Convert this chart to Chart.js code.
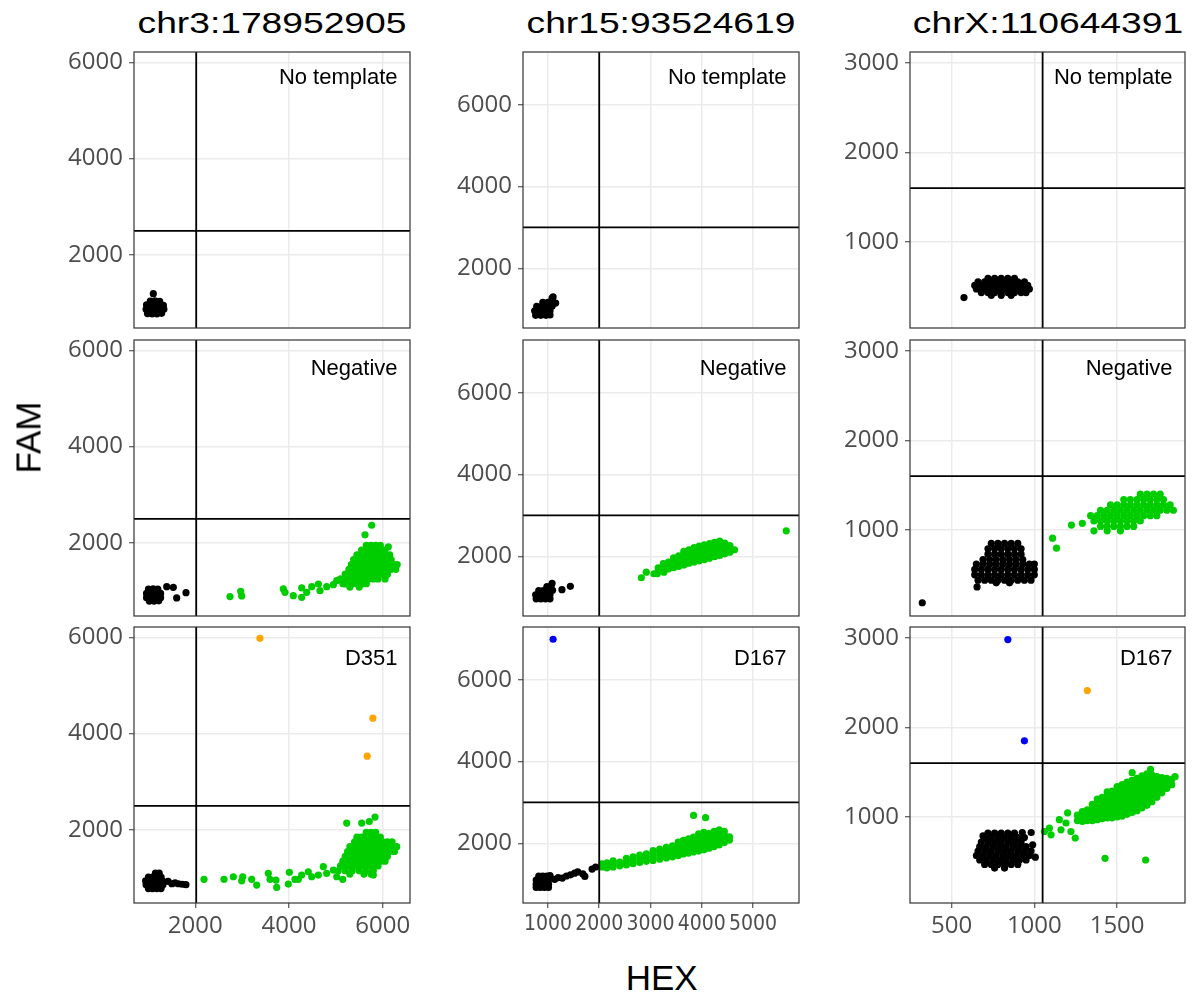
<!DOCTYPE html>
<html>
<head>
<meta charset="utf-8">
<script src="https://cdn.jsdelivr.net/npm/chart.js@4.4.1/dist/chart.umd.min.js"></script>
<style>
  body { margin: 0; background: #fff; width: 1192px; height: 1001px; position: relative; overflow: hidden; font-family: 'Liberation Sans', Arial, sans-serif; }
  canvas { position: absolute; }
  .title { position: absolute; width: 300px; font-size: 30px; line-height: 30px; text-align: center; white-space: nowrap; color: #000; transform: scaleX(1.24); }
  .axis-title { position: absolute; font-size: 35px; line-height: 35px; text-align: center; color: #000; white-space: nowrap; }
</style>
</head>
<body>
<div id="wrap"></div>
<script>
const panelTitles = ['chr3:178952905', 'chr15:93524619', 'chrX:110644391']
const panelLabels = [
  ['No template', 'No template', 'No template'],
  ['Negative', 'Negative', 'Negative'],
  ['D351', 'D167', 'D167']
]
const xRanges = [[692, 6583], [513, 5897], [249, 1910]]
const yRanges = [[480, 6215], [540, 7290], [40, 3120]]
const xTicks = [[2000, 4000, 6000], [1000, 2000, 3000, 4000, 5000], [500, 1000, 1500]]
const yTicks = [[2000, 4000, 6000], [2000, 4000, 6000], [1000, 2000, 3000]]
const xCut = [2020, 2000, 1050]
const yCut = [2500, 3000, 1600]

// droplets, flat x,y pairs (HEX, FAM)
const p11Black = [1040,1040, 1140,1045, 1240,1035, 960,960, 1060,960, 1160,960, 1260,960, 1320,950,
  950,870, 1050,870, 1150,870, 1250,870, 1330,870, 980,780, 1080,775, 1180,775, 1280,785, 1104,1193]
const p12Black = [760,850, 860,850, 960,850, 1040,860, 740,960, 840,960, 940,960, 1040,960,
  780,1070, 880,1070, 980,1070, 1080,1070, 900,1170, 1000,1170, 1100,1160, 1150,1150, 1080,1270, 1100,1300]
const p13Black = [720,595, 760,595, 800,595, 840,595, 880,595,
  660,555, 700,555, 740,555, 780,555, 820,555, 860,555, 900,555, 940,555,
  640,515, 680,515, 720,515, 760,515, 800,515, 840,515, 880,515, 920,515, 960,515,
  650,475, 690,475, 730,475, 770,475, 810,475, 850,475, 890,475, 930,475, 970,475,
  680,435, 720,435, 760,435, 800,435, 840,435, 880,435, 920,435, 950,435,
  740,405, 800,405, 860,405, 575,380]

const p21Black = [1000,1040, 1100,1045, 1200,1040, 960,950, 1060,950, 1160,950, 1260,950,
  960,860, 1060,860, 1160,860, 1260,860, 1020,790, 1120,790, 1220,795,
  1390,1090, 1531,1075, 1603,856, 1802,965]
const p21Green = [2741,883, 2969,992, 2990,897, 3879,1042, 3915,972, 4092,903, 4271,1063, 4271,868,
  4378,972, 4485,1090, 4627,1145, 4662,1007, 4805,1090, 4947,1131, 5019,1214, 5161,1249, 5196,1145,
  5765,2366, 5623,2166, 6120,1917,
  5650,1950, 5750,1950, 5850,1950, 5950,1950,
  5550,1850, 5650,1850, 5750,1850, 5850,1850, 5950,1850, 6050,1850,
  5450,1750, 5550,1750, 5650,1750, 5750,1750, 5850,1750, 5950,1750, 6050,1750, 6150,1750,
  5380,1650, 5480,1650, 5580,1650, 5680,1650, 5780,1650, 5880,1650, 5980,1650, 6080,1650, 6180,1650,
  5330,1550, 5430,1550, 5530,1550, 5630,1550, 5730,1550, 5830,1550, 5930,1550, 6030,1550, 6130,1550, 6230,1550, 6310,1550,
  5280,1450, 5380,1450, 5480,1450, 5580,1450, 5680,1450, 5780,1450, 5880,1450, 5980,1450, 6080,1450, 6180,1450, 6280,1450,
  5200,1350, 5300,1350, 5400,1350, 5500,1350, 5600,1350, 5700,1350, 5800,1350, 5900,1350, 6000,1350, 6100,1350,
  5100,1250, 5200,1250, 5300,1250, 5400,1250, 5500,1250, 5600,1250, 5700,1250, 5800,1250, 5900,1250, 6050,1250,
  5150,1150, 5250,1150, 5350,1150, 5450,1150, 5550,1150, 5650,1150, 5300,1080, 5500,1080]

const p22Black = [770,960, 860,960, 950,960, 1040,960, 760,1060, 850,1060, 940,1060, 1040,1060,
  820,1160, 910,1160, 1000,1160, 1090,1170, 980,1260, 1060,1260, 1080,1340, 1273,1184, 1437,1265]
const p22Green = [2821,1476, 2918,1612, 3067,1573, 3133,1573, 3262,1612, 5648,2624,
  3150,1640, 3150,1720,
  3250,1660, 3250,1750, 3250,1820,
  3350,1690, 3350,1780, 3350,1860,
  3450,1720, 3450,1810, 3450,1900, 3450,1960,
  3550,1750, 3550,1840, 3550,1930, 3550,2010,
  3650,1790, 3650,1880, 3650,1970, 3650,2060, 3650,2120,
  3750,1830, 3750,1920, 3750,2010, 3750,2100, 3750,2160,
  3850,1860, 3850,1950, 3850,2040, 3850,2130, 3850,2210,
  3950,1890, 3950,1980, 3950,2070, 3950,2160, 3950,2250,
  4050,1920, 4050,2010, 4050,2100, 4050,2190, 4050,2280,
  4150,1950, 4150,2040, 4150,2130, 4150,2220, 4150,2310,
  4250,1990, 4250,2080, 4250,2170, 4250,2260, 4250,2340,
  4350,2020, 4350,2110, 4350,2200, 4350,2290, 4350,2370,
  4450,2060, 4450,2150, 4450,2240, 4450,2320,
  4550,2100, 4550,2180, 4550,2260, 4640,2160]

const p23Black = [740,850, 780,850, 820,850, 860,850, 900,850,
  720,790, 760,790, 800,790, 840,790, 880,790, 920,790,
  720,730, 760,730, 800,730, 840,730, 880,730, 920,730,
  690,670, 730,670, 770,670, 810,670, 850,670, 890,670, 930,670,
  650,620, 690,620, 730,620, 770,620, 810,620, 850,620, 890,620, 930,620, 970,620, 1000,620,
  640,560, 680,560, 720,560, 760,560, 800,560, 840,560, 880,560, 920,560, 960,560, 1000,560,
  640,500, 680,500, 720,500, 760,500, 800,500, 840,500, 880,500, 920,500, 960,500, 1000,500,
  660,440, 700,440, 740,440, 780,440, 820,440, 860,440, 900,440, 940,440, 980,440,
  770,410, 850,410, 654,365, 323,188]
const p23Green = [1110,908, 1134,797, 1224,1055, 1290,1074,
  1640,1400, 1680,1400, 1720,1400, 1760,1400,
  1540,1340, 1580,1340, 1620,1340, 1660,1340, 1700,1340, 1740,1340, 1780,1340,
  1460,1280, 1500,1280, 1540,1280, 1580,1280, 1620,1280, 1660,1280, 1700,1280, 1740,1280, 1780,1280, 1820,1280,
  1400,1220, 1440,1220, 1480,1220, 1520,1220, 1560,1220, 1600,1220, 1640,1220, 1680,1220, 1720,1220, 1760,1220, 1800,1220, 1840,1220,
  1340,1160, 1380,1160, 1420,1160, 1460,1160, 1500,1160, 1540,1160, 1580,1160, 1620,1160, 1660,1160, 1700,1160, 1740,1160,
  1360,1100, 1400,1100, 1440,1100, 1480,1100, 1520,1100, 1560,1100, 1600,1100, 1640,1100,
  1400,1040, 1440,1040, 1480,1040, 1520,1040, 1560,1040, 1600,1040,
  1360,990, 1440,990, 1520,990]

const p31Black = [1150,1100, 1230,1100, 1000,1020, 1090,1020, 1180,1020, 1270,1020,
  940,940, 1030,940, 1120,940, 1210,940, 1300,940, 950,860, 1040,860, 1130,860, 1220,860, 1310,860,
  1000,780, 1090,780, 1180,780, 1270,780,
  1420,930, 1500,880, 1570,900, 1640,880, 1720,870, 1800,860]
const p31Green = [2186,971, 2613,971, 2812,1025, 2991,941, 3012,1025, 3204,971, 3311,852, 3559,1096,
  3595,971, 3723,956, 3738,804, 4007,1117, 3986,873, 4128,971, 4199,971, 4271,1061, 4412,1129,
  4485,1025, 4627,1061, 4733,1234, 4805,1096, 4947,1165, 5019,1025, 5147,971,
  5232,2140, 5552,2140, 5714,2173, 5836,2265, 5800,1061,
  5650,1950, 5750,1950, 5850,1950,
  5450,1850, 5550,1850, 5650,1850, 5750,1850, 5850,1850, 5950,1850,
  5400,1750, 5500,1750, 5600,1750, 5700,1750, 5800,1750, 5900,1750, 6000,1750, 6100,1750, 6200,1750,
  5300,1650, 5400,1650, 5500,1650, 5600,1650, 5700,1650, 5800,1650, 5900,1650, 6000,1650, 6100,1650, 6200,1650, 6300,1650,
  5250,1550, 5350,1550, 5450,1550, 5550,1550, 5650,1550, 5750,1550, 5850,1550, 5950,1550, 6050,1550, 6150,1550, 6250,1550,
  5200,1450, 5300,1450, 5400,1450, 5500,1450, 5600,1450, 5700,1450, 5800,1450, 5900,1450, 6000,1450, 6100,1450,
  5150,1350, 5250,1350, 5350,1350, 5450,1350, 5550,1350, 5650,1350, 5750,1350, 5850,1350, 5950,1350, 6050,1350,
  5100,1250, 5200,1250, 5300,1250, 5400,1250, 5500,1250, 5600,1250, 5700,1250, 5800,1250, 5900,1250,
  5050,1150, 5200,1150, 5350,1150, 5500,1150, 5650,1150, 5800,1150,
  5300,1080, 5600,1080, 5750,1080]
const p31Orange = [3380,5980, 5790,4320, 5670,3530]

const p32Black = [820,1200, 900,1200, 980,1200, 1040,1210, 770,1100, 850,1100, 930,1100, 1010,1100,
  770,1000, 850,1000, 930,1000, 1010,1000, 770,920, 850,920, 930,920, 1010,920,
  1130,1120, 1200,1160, 1280,1150, 1360,1200, 1440,1230, 1520,1270, 1580,1300, 1680,1250, 1720,1190,
  1860,1370, 1930,1420]
const p32Green = [2050,1420, 2050,1500, 2150,1400, 2150,1520, 2270,1420, 2270,1500, 2270,1570,
  2400,1450, 2400,1540, 2530,1470, 2530,1560, 2530,1630, 2660,1500, 2660,1590, 2660,1670,
  2790,1530, 2790,1620, 2790,1710, 2920,1560, 2920,1650, 2920,1740,
  3050,1580, 3050,1670, 3050,1760, 3050,1820, 3180,1610, 3180,1700, 3180,1790, 3180,1860,
  3310,1640, 3310,1730, 3310,1820, 3310,1900, 3430,1670, 3430,1760, 3430,1850, 3430,1940,
  3540,1700, 3540,1790, 3540,1880, 3540,1970, 3540,2030,
  3640,1740, 3640,1830, 3640,1920, 3640,2010, 3640,2070,
  3740,1760, 3740,1850, 3740,1940, 3740,2030, 3740,2110,
  3840,1790, 3840,1880, 3840,1970, 3840,2060, 3840,2150,
  3940,1810, 3940,1900, 3940,1990, 3940,2080, 3940,2170, 3940,2230,
  4040,1840, 4040,1930, 4040,2020, 4040,2110, 4040,2200, 4040,2270,
  4140,1880, 4140,1970, 4140,2060, 4140,2150, 4140,2240,
  4240,1920, 4240,2010, 4240,2100, 4240,2190, 4240,2290,
  4340,1960, 4340,2050, 4340,2140, 4340,2230, 4340,2330,
  4440,2020, 4440,2110, 4440,2200, 4440,2290, 4540,2080, 4540,2160,
  3840,2683, 4074,2627]
const p32Blue = [1100,6990]

const p33Black = [720,820, 760,820, 800,820, 840,820, 880,820,
  700,770, 740,770, 780,770, 820,770, 860,770, 900,770, 940,770,
  680,720, 720,720, 760,720, 800,720, 840,720, 880,720, 920,720,
  670,670, 710,670, 750,670, 790,670, 830,670, 870,670, 910,670, 950,670,
  660,620, 700,620, 740,620, 780,620, 820,620, 860,620, 900,620, 940,620, 980,620,
  650,570, 690,570, 730,570, 770,570, 810,570, 850,570, 890,570, 930,570, 970,570,
  670,520, 710,520, 750,520, 790,520, 830,520, 870,520, 910,520, 950,520,
  700,470, 740,470, 780,470, 820,470, 860,470, 900,470, 760,430, 820,430,
  927,827, 981,827, 990,689, 1006,551, 690,790]
const p33Green = [1061,838, 1091,876, 1101,801, 1151,970, 1161,857, 1191,933, 1201,1045, 1221,838, 1247,764,
  1260,960, 1260,1020, 1290,950, 1290,1010, 1290,1060, 1320,960, 1320,1020, 1320,1080,
  1350,960, 1350,1020, 1350,1080, 1350,1140, 1380,970, 1380,1030, 1380,1090, 1380,1150, 1380,1200,
  1410,980, 1410,1040, 1410,1100, 1410,1160, 1410,1220,
  1440,990, 1440,1050, 1440,1110, 1440,1170, 1440,1230, 1440,1280,
  1470,990, 1470,1050, 1470,1110, 1470,1170, 1470,1230, 1470,1290,
  1500,1000, 1500,1060, 1500,1120, 1500,1180, 1500,1240, 1500,1300, 1500,1340,
  1530,1010, 1530,1070, 1530,1130, 1530,1190, 1530,1250, 1530,1310, 1530,1360,
  1560,1030, 1560,1090, 1560,1150, 1560,1210, 1560,1270, 1560,1330, 1560,1390,
  1590,1050, 1590,1110, 1590,1170, 1590,1230, 1590,1290, 1590,1350, 1590,1410,
  1620,1070, 1620,1130, 1620,1190, 1620,1250, 1620,1310, 1620,1370, 1620,1430,
  1650,1100, 1650,1160, 1650,1220, 1650,1280, 1650,1340, 1650,1400, 1650,1460,
  1680,1130, 1680,1190, 1680,1250, 1680,1310, 1680,1370, 1680,1430, 1680,1480,
  1710,1170, 1710,1230, 1710,1290, 1710,1350, 1710,1410, 1710,1470,
  1740,1220, 1740,1280, 1740,1340, 1740,1400, 1740,1450,
  1770,1270, 1770,1330, 1770,1390, 1770,1440, 1800,1320, 1800,1380, 1800,1430, 1830,1360, 1830,1420,
  1427,539, 1672,520, 1591,1494, 1702,1531, 1850,1450]
const p33Blue = [840,2980, 940,1850]
const p33Orange = [1320,2410]

const dotColors = {black: '#000000', green: '#00CD00', orange: '#FFA500', blue: '#0000FF'}
const panelDots = [
  [[[p11Black, 'black']], [[p12Black, 'black']], [[p13Black, 'black']]],
  [[[p21Black, 'black'], [p21Green, 'green']], [[p22Black, 'black'], [p22Green, 'green']], [[p23Black, 'black'], [p23Green, 'green']]],
  [[[p31Black, 'black'], [p31Green, 'green'], [p31Orange, 'orange']],
    [[p32Black, 'black'], [p32Green, 'green'], [p32Blue, 'blue']],
    [[p33Black, 'black'], [p33Green, 'green'], [p33Blue, 'blue'], [p33Orange, 'orange']]]
]

// page layout
const colLeft = [134, 523, 910]
const colWidth = [276, 276, 275]
const rowTop = [52, 340, 627]
const rowHeight = 276
const axisW = 90
const pad = 8
const xAxisH = 50
const labelDrop = [31.5, 34.5, 37.5]

const wrap = document.getElementById('wrap')

function toPoints(flat) {
  const out = []
  for (let i = 0; i < flat.length; i += 2) out.push({x: flat[i], y: flat[i + 1]})
  return out
}

const panelBox = {
  id: 'panelBox',
  afterDatasetsDraw(chart, args, opts) {
    const {ctx, chartArea: a} = chart
    ctx.save()
    ctx.strokeStyle = '#333333'
    ctx.lineWidth = 1.2
    ctx.strokeRect(a.left, a.top, a.right - a.left, a.bottom - a.top)
    ctx.font = "22px 'Liberation Sans', Arial, sans-serif"
    ctx.fillStyle = '#000'
    ctx.textAlign = 'right'
    ctx.textBaseline = 'alphabetic'
    ctx.fillText(opts.label, a.right - 12.5, a.top + opts.drop)
    ctx.restore()
  }
}

function makePanel(r, c) {
  const el = document.createElement('canvas')
  const w = axisW + colWidth[c] + pad
  const h = pad + rowHeight + (r === 2 ? xAxisH : pad)
  el.width = w
  el.height = h
  el.style.width = w + 'px'
  el.style.height = h + 'px'
  el.style.left = (colLeft[c] - axisW) + 'px'
  el.style.top = (rowTop[r] - pad) + 'px'
  wrap.appendChild(el)

  const [x0, x1] = xRanges[c]
  const [y0, y1] = yRanges[c]
  const datasets = [
    {data: [{x: xCut[c], y: y0}, {x: xCut[c], y: y1}], showLine: true, borderColor: '#000', borderWidth: 1.8, pointRadius: 0},
    {data: [{x: x0, y: yCut[c]}, {x: x1, y: yCut[c]}], showLine: true, borderColor: '#000', borderWidth: 1.8, pointRadius: 0}
  ]
  panelDots[r][c].forEach(([flat, name]) => {
    datasets.push({
      data: toPoints(flat),
      backgroundColor: dotColors[name],
      borderColor: dotColors[name],
      borderWidth: 0,
      pointBorderWidth: 0,
      pointRadius: 3.6,
      pointHoverRadius: 3.6
    })
  })

  const tickFont = {family: "'Open Sans', sans-serif", size: 24}
  const xFont = c === 1 ? {family: "'DejaVu Sans Condensed', 'Open Sans', sans-serif", size: 21} : tickFont

  new Chart(el, {
    type: 'scatter',
    data: {datasets},
    options: {
      responsive: false,
      animation: false,
      devicePixelRatio: 1,
      layout: {padding: {top: pad, right: pad, bottom: r === 2 ? 0 : pad, left: 0}},
      plugins: {
        legend: {display: false},
        tooltip: {enabled: false},
        panelBox: {label: panelLabels[r][c], drop: labelDrop[r]}
      },
      scales: {
        x: {
          type: 'linear',
          min: x0,
          max: x1,
          afterBuildTicks: axis => { axis.ticks = xTicks[c].map(v => ({value: v})) },
          afterFit: axis => {
            axis.height = r === 2 ? xAxisH : 0
            axis.paddingLeft = 0
            axis.paddingRight = 0
          },
          border: {display: false},
          grid: {color: '#EBEBEB', lineWidth: 1.5, drawTicks: r === 2, tickColor: '#333333', tickLength: 5, tickWidth: 1},
          ticks: {display: r === 2, font: xFont, color: '#4D4D4D', padding: 4, maxRotation: 0, autoSkip: false, callback: v => String(v)}
        },
        y: {
          type: 'linear',
          min: y0,
          max: y1,
          afterBuildTicks: axis => { axis.ticks = yTicks[c].map(v => ({value: v})) },
          afterFit: axis => {
            axis.width = axisW
            axis.paddingTop = 0
            axis.paddingBottom = 0
          },
          border: {display: false},
          grid: {color: '#EBEBEB', lineWidth: 1.5, tickColor: '#333333', tickLength: 5, tickWidth: 1},
          ticks: {font: tickFont, color: '#4D4D4D', padding: 6, autoSkip: false, callback: v => String(v)}
        }
      }
    },
    plugins: [panelBox]
  })
}

for (let r = 0; r < 3; r++) {
  for (let c = 0; c < 3; c++) makePanel(r, c)
}

panelTitles.forEach((t, c) => {
  const d = document.createElement('div')
  d.className = 'title'
  d.textContent = t
  d.style.left = (colLeft[c] + colWidth[c] / 2 - 150) + 'px'
  d.style.top = '8px'
  wrap.appendChild(d)
})

const hex = document.createElement('div')
hex.className = 'axis-title'
hex.textContent = 'HEX'
hex.style.width = '200px'
hex.style.left = (661.7 - 100) + 'px'
hex.style.top = '960px'
wrap.appendChild(hex)

const fam = document.createElement('div')
fam.className = 'axis-title'
fam.textContent = 'FAM'
fam.style.width = '120px'
fam.style.left = (28 - 60) + 'px'
fam.style.top = (437 - 17.5) + 'px'
fam.style.transform = 'rotate(-90deg)'
wrap.appendChild(fam)
</script>
</body>
</html>
